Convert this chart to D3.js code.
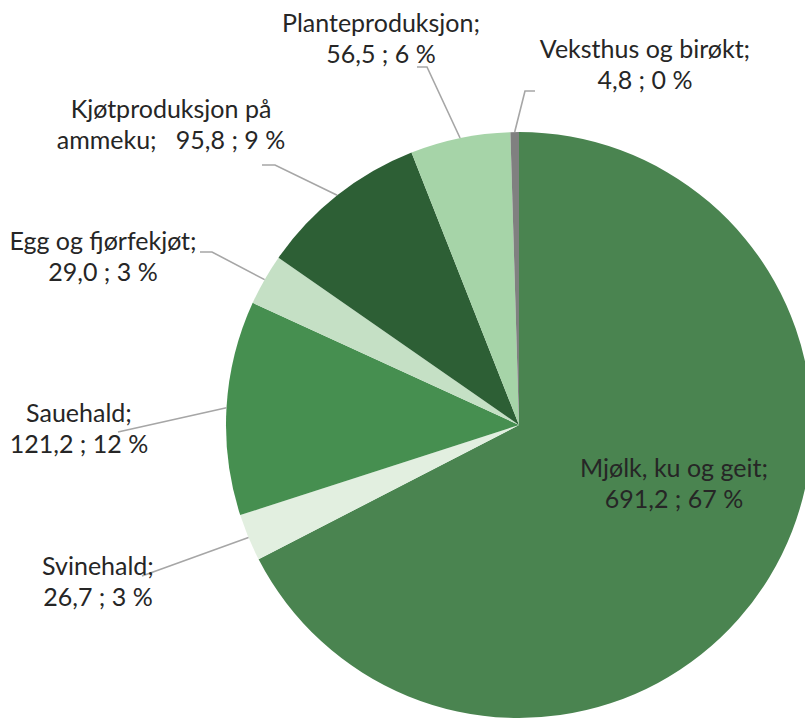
<!DOCTYPE html>
<html>
<head>
<meta charset="utf-8">
<script src="https://cdn.jsdelivr.net/npm/d3@7"></script>
<style>
    body { margin: 0; background: #fff; }
    svg { display: block; }
    .lbl { font-family: Lato, "Open Sans", sans-serif; font-size: 25px; fill: #262626; }
</style>
</head>
<body>
<div class="piediv"></div>
<script>
// data
const categories = ['Mjølk, ku og geit', 'Svinehald', 'Sauehald', 'Egg og fjørfekjøt',
    'Kjøtproduksjon på ammeku', 'Planteproduksjon', 'Veksthus og birøkt']
const values = [691.2, 26.7, 121.2, 29.0, 95.8, 56.5, 4.8]
const colors = ['#4a8450', '#e2efe0', '#468f50', '#c5e0c5', '#2d5f35', '#a6d4a8', '#808080']

// label placement (center x, first baseline, leader start) - layout only
const labelPos = {
    'Mjølk, ku og geit': { x: 674, y: 477 },
    'Svinehald': { x: 98, y: 575, lx: 142, ly: 576 },
    'Sauehald': { x: 79, y: 422, lx: 118, ly: 432 },
    'Egg og fjørfekjøt': { x: 103, y: 250, lx: 200, ly: 252, hx: 212 },
    'Kjøtproduksjon på ammeku': { x: 171, y: 118, lx: 262, ly: 165, hx: 275 },
    'Planteproduksjon': { x: 381, y: 32, lx: 417, ly: 67, hx: 427 },
    'Veksthus og birøkt': { x: 645, y: 58, lx: 535, ly: 91, hx: 525 }
}

let w = 805, h = 720
let cx = 519, cy = 425, r = 293
let lineGap = 31

let total = d3.sum(values)
let fmtVal = v => d3.format('.1f')(v).replace('.', ',')
let fmtPct = v => Math.round(v / total * 100) + ' %'

let dataArr = categories.map((c, i) => ({ name: c, value: values[i], color: colors[i] }))

var svg = d3.select('.piediv')
    .append('svg')
    .attr('width', w)
    .attr('height', h)

let pie = d3.pie().sort(null).value(d => d.value)
let arc = d3.arc().innerRadius(0).outerRadius(r)
let arcs = pie(dataArr)

let g = svg.append('g').attr('transform', 'translate(' + cx + ',' + cy + ')')

g.selectAll('.slice')
    .data(arcs)
    .enter()
    .append('path')
    .attr('class', 'slice')
    .attr('d', arc)
    .attr('fill', d => d.data.color)

// leader lines, ending on the outer edge at the slice middle
arcs.forEach(d => {
    let p = labelPos[d.data.name]
    if (p.lx === undefined) return
    let mid = (d.startAngle + d.endAngle) / 2
    let ex = cx + r * Math.sin(mid),
        ey = cy - r * Math.cos(mid)
    let pts = [[p.lx, p.ly]]
    if (p.hx !== undefined) pts.push([p.hx, p.ly])
    pts.push([ex, ey])
    svg.append('path')
        .attr('d', d3.line()(pts))
        .attr('fill', 'none')
        .attr('stroke', '#a6a6a6')
        .attr('stroke-width', 1.6)
})

// labels
arcs.forEach(d => {
    let p = labelPos[d.data.name]
    let name = d.data.name
    let lines
    if (name == 'Kjøtproduksjon på ammeku') {
        lines = ['Kjøtproduksjon på', 'ammeku;\u00a0\u00a0 ' + fmtVal(d.data.value) + ' ; ' + fmtPct(d.data.value)]
    } else {
        lines = [name + ';', fmtVal(d.data.value) + ' ; ' + fmtPct(d.data.value)]
    }
    let t = svg.append('text')
        .attr('class', 'lbl')
        .attr('text-anchor', 'middle')
        .style('white-space', 'pre')
    lines.forEach((s, i) => {
        t.append('tspan')
            .attr('x', p.x)
            .attr('y', p.y + i * lineGap)
            .text(s)
    })
})
</script>
</body>
</html>
